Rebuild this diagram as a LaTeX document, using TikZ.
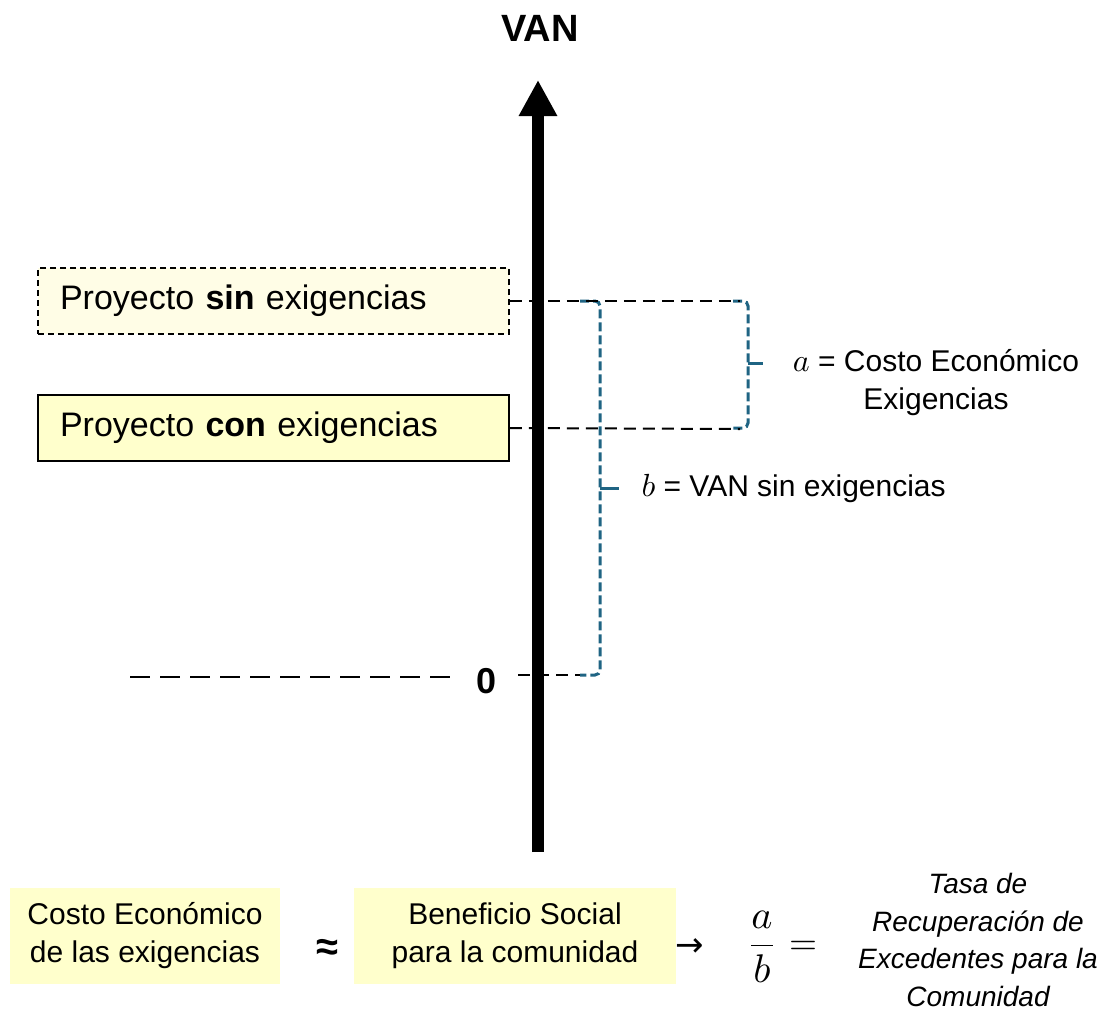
\documentclass[tikz,border=0pt]{standalone}
\usepackage{fontspec}
\setmainfont{Liberation Sans}
\newfontfamily\dejavu{DejaVu Sans}
\usetikzlibrary{arrows.meta}
\definecolor{boxy}{HTML}{FFFFCC}
\definecolor{boxl}{HTML}{FFFDE6}
\definecolor{brblue}{HTML}{1F6483}
\newcommand\mymath[2]{\scalebox{#1}{\fontsize{10}{12}\selectfont$#2$}}
\begin{document}
\begin{tikzpicture}[x=1pt,y=-1pt,
  projbox/.style={draw=black, line width=1.5pt, minimum width=471pt, minimum height=66pt,
    text width=427pt, inner xsep=22pt, align=left, font=\fontsize{34}{40}\selectfont},
  blkdash/.style={draw=black, line width=2pt, dash pattern=on 12pt off 7pt},
  zerodash/.style={draw=black, line width=2.5pt, dash pattern=on 20pt off 10pt},
  bracket/.style={draw=brblue, line width=3pt, dash pattern=on 9pt off 4pt, rounded corners=5pt},
  lbl/.style={font=\fontsize{30}{38}\selectfont, align=center},
  ybox/.style={fill=boxy, minimum height=96pt, align=center, font=\fontsize{30}{38}\selectfont}
]
\useasboundingbox (0,0) rectangle (1101,1013);

% title
\node[font=\bfseries\fontsize{38}{40}\selectfont] (van) at (540,28) {VAN};

% coordinates
\coordinate (axb) at (538,852);
\coordinate (axt) at (538,80);
\coordinate (atop) at (740,301);
\coordinate (abot) at (740,429);
\coordinate (zl) at (130,677);
\coordinate (zle) at (458,677);
\coordinate (zr) at (518,675);
\coordinate (bbot) at (582,675);

% zero
\node[font=\bfseries\fontsize{36}{40}\selectfont] (zero) at (487,681) {0};
\draw[zerodash] (zl) -- (zle);
\draw[blkdash] (zr) -- (bbot);

% brackets
\draw[bracket] (733,301) -- (748,301) -- (748,428) -- (733,428);
\draw[draw=brblue, line width=3pt] (748,363) -- (763,363);
\draw[bracket] (580,301) -- (600,301) -- (600,675) -- (580,675);
\draw[draw=brblue, line width=3pt] (600,488) -- (619,488);

% boxes
\node[projbox, dashed, dash pattern=on 6pt off 4pt, fill=boxl] (sin) at (273.5,301) {Proyecto \textbf{sin} exigencias};
\node[projbox, fill=boxy] (con) at (273.5,428) {Proyecto \textbf{con} exigencias};

\draw[blkdash] (sin.east) -- (atop);
\draw[blkdash] (con.east) -- (abot);

% axis
\draw[line width=12pt, -{Triangle[width=36pt,length=36pt]}] (axb) -- (axt);

% labels
\node[lbl] (la) at (936,383) {\mymath{3.2}{a} = Costo Económico\\Exigencias};
\node[lbl, anchor=west] (lb) at (638,488) {\mymath{3.2}{b} = VAN sin exigencias};

% bottom
\node[ybox, minimum width=270pt] (c1) at (145,936) {Costo Económico\\de las exigencias};
\node[font=\bfseries\fontsize{40}{40}\selectfont] (ap) at (327,950) {≈};
\node[ybox, minimum width=322pt] (c2) at (515,936) {Beneficio Social\\para la comunidad};
\node[font=\dejavu\fontsize{34}{36}\selectfont] (arr) at (690,948) {→};
\node (fr) at (762,947) {\mymath{4}{\displaystyle\frac{a}{b}}};
\node (eq) at (803,948) {\mymath{3.6}{=}};
\node[font=\itshape\fontsize{28}{37.7}\selectfont, align=center] (tasa) at (978,940) {Tasa de\\Recuperación de\\Excedentes para la\\Comunidad};
\end{tikzpicture}
\end{document}
